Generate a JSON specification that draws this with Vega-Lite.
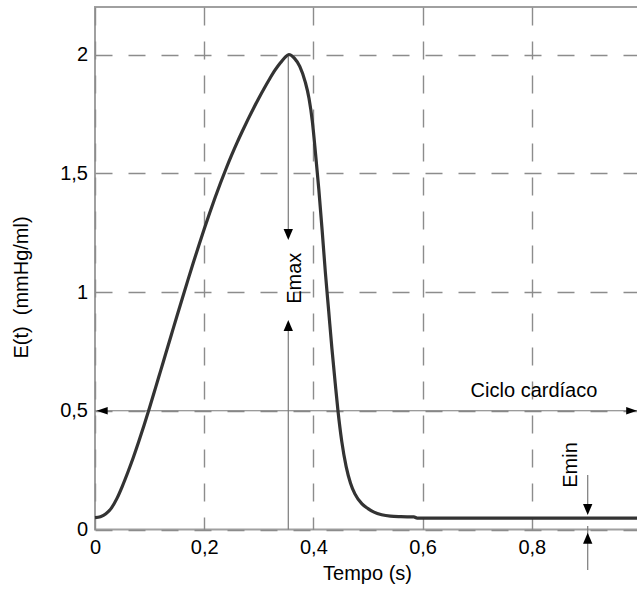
{
  "$schema": "https://vega.github.io/schema/vega-lite/v6.json",
  "width": 546,
  "height": 522.5,
  "autosize": {"type": "none"},
  "padding": {"left": 95, "top": 7, "right": 0, "bottom": 59.5},
  "background": "white",
  "config": {
    "view": {"stroke": "#a0a0a0", "strokeWidth": 2},
    "font": "Liberation Sans"
  },
  "datasets": {
    "curve": [
      {"t": 0.000, "E": 0.050}, {"t": 0.010, "E": 0.054}, {"t": 0.020, "E": 0.066},
      {"t": 0.030, "E": 0.090}, {"t": 0.040, "E": 0.130}, {"t": 0.050, "E": 0.182},
      {"t": 0.060, "E": 0.240}, {"t": 0.070, "E": 0.302}, {"t": 0.080, "E": 0.369},
      {"t": 0.090, "E": 0.440}, {"t": 0.100, "E": 0.514}, {"t": 0.110, "E": 0.590},
      {"t": 0.120, "E": 0.667}, {"t": 0.130, "E": 0.744}, {"t": 0.140, "E": 0.821},
      {"t": 0.150, "E": 0.898}, {"t": 0.160, "E": 0.974}, {"t": 0.170, "E": 1.049},
      {"t": 0.180, "E": 1.123}, {"t": 0.190, "E": 1.195}, {"t": 0.200, "E": 1.265},
      {"t": 0.210, "E": 1.333}, {"t": 0.220, "E": 1.398}, {"t": 0.230, "E": 1.460},
      {"t": 0.240, "E": 1.519}, {"t": 0.250, "E": 1.575}, {"t": 0.260, "E": 1.628},
      {"t": 0.270, "E": 1.678}, {"t": 0.280, "E": 1.726}, {"t": 0.290, "E": 1.772},
      {"t": 0.300, "E": 1.816}, {"t": 0.310, "E": 1.858}, {"t": 0.320, "E": 1.898},
      {"t": 0.330, "E": 1.935}, {"t": 0.340, "E": 1.966}, {"t": 0.348, "E": 1.988},
      {"t": 0.355, "E": 2.000}, {"t": 0.365, "E": 1.985}, {"t": 0.375, "E": 1.950},
      {"t": 0.385, "E": 1.885}, {"t": 0.392, "E": 1.815}, {"t": 0.398, "E": 1.720},
      {"t": 0.404, "E": 1.580}, {"t": 0.410, "E": 1.430}, {"t": 0.416, "E": 1.260},
      {"t": 0.422, "E": 1.080}, {"t": 0.428, "E": 0.920}, {"t": 0.434, "E": 0.760},
      {"t": 0.440, "E": 0.615}, {"t": 0.445, "E": 0.500}, {"t": 0.452, "E": 0.370},
      {"t": 0.460, "E": 0.265}, {"t": 0.468, "E": 0.195}, {"t": 0.476, "E": 0.150},
      {"t": 0.489, "E": 0.108}, {"t": 0.500, "E": 0.088}, {"t": 0.511, "E": 0.073},
      {"t": 0.525, "E": 0.062}, {"t": 0.541, "E": 0.056}, {"t": 0.560, "E": 0.054},
      {"t": 0.584, "E": 0.053}, {"t": 0.590, "E": 0.048}, {"t": 1.000, "E": 0.048}
    ],
    "rules": [
      {"t": 0.0, "E": 0.5, "t2": 0.993, "E2": 0.5},
      {"t": 0.354, "E": 2.0, "t2": 0.354, "E2": 1.25},
      {"t": 0.354, "E": 0.0, "t2": 0.354, "E2": 0.85},
      {"t": 0.9024, "E": 0.229, "t2": 0.9024, "E2": 0.09},
      {"t": 0.9024, "E": -0.17, "t2": 0.9024, "E2": 0.015}
    ],
    "heads": [
      {"t": 0.0031, "E": 0.5, "dir": "left"},
      {"t": 0.993, "E": 0.5, "dir": "right"},
      {"t": 0.354, "E": 1.219, "dir": "down"},
      {"t": 0.354, "E": 0.882, "dir": "up"},
      {"t": 0.9024, "E": 0.061, "dir": "down"},
      {"t": 0.9024, "E": -0.0135, "dir": "up"}
    ],
    "vlabels": [
      {"t": 0.3655, "E": 1.058, "label": "Emax"},
      {"t": 0.8722, "E": 0.2716, "label": "Emin"}
    ],
    "hlabels": [
      {"t": 0.804, "E": 0.56, "label": "Ciclo cardíaco"}
    ]
  },
  "layer": [
    {
      "data": {"name": "rules"},
      "mark": {"type": "rule", "color": "#7a7a7a", "strokeWidth": 1.2},
      "encoding": {
        "x": {
          "field": "t", "type": "quantitative", "title": "Tempo (s)",
          "scale": {"domain": [0, 1], "nice": false, "zero": false},
          "axis": {
            "values": [0, 0.2, 0.4, 0.6, 0.8],
            "labelExpr": "replace(toString(datum.value), '.', ',')",
            "domain": false, "ticks": false, "tickSize": 0,
            "grid": true, "gridColor": "#8c8c8c", "gridDash": [18, 16], "gridWidth": 1.4,
            "labelFont": "Liberation Sans", "labelFontSize": 20, "labelColor": "#000",
            "labelBaseline": "alphabetic", "labelPadding": 24, "labelFlush": false,
            "labelOverlap": false,
            "titleFont": "Liberation Sans", "titleFontSize": 20, "titleFontWeight": "normal",
            "titleColor": "#000", "titleBaseline": "alphabetic", "titleY": 50, "titleX": 272
          }
        },
        "x2": {"field": "t2"},
        "y": {
          "field": "E", "type": "quantitative", "title": "E(t) \u00a0(mmHg/ml)",
          "scale": {"domain": [0, 2.2], "nice": false, "zero": false},
          "axis": {
            "values": [0, 0.5, 1, 1.5, 2],
            "labelExpr": "replace(toString(datum.value), '.', ',')",
            "domain": false, "ticks": false, "tickSize": 0,
            "grid": true, "gridColor": "#8c8c8c", "gridDash": [17, 16], "gridWidth": 1.4,
            "labelFont": "Liberation Sans", "labelFontSize": 20, "labelColor": "#000",
            "labelPadding": 7.5, "labelFlush": false, "labelOverlap": false,
            "titleFont": "Liberation Sans", "titleFontSize": 20, "titleFontWeight": "normal",
            "titleColor": "#000", "titleBaseline": "middle", "titleAngle": 270,
            "titleX": -74, "titleY": 280
          }
        },
        "y2": {"field": "E2"}
      }
    },
    {
      "data": {"name": "curve"},
      "mark": {"type": "line", "color": "#333333", "strokeWidth": 3.2, "interpolate": "monotone"},
      "encoding": {
        "x": {"field": "t", "type": "quantitative", "title": "Tempo (s)"},
        "y": {"field": "E", "type": "quantitative", "title": "E(t) \u00a0(mmHg/ml)"}
      }
    },
    {
      "data": {"name": "heads"},
      "mark": {"type": "point", "filled": true, "color": "#000", "opacity": 1, "size": 121, "strokeWidth": 0},
      "encoding": {
        "x": {"field": "t", "type": "quantitative", "title": "Tempo (s)"},
        "y": {"field": "E", "type": "quantitative", "title": "E(t) \u00a0(mmHg/ml)"},
        "shape": {
          "field": "dir", "type": "nominal", "legend": null,
          "scale": {
            "domain": ["left", "right", "down", "up"],
            "range": ["M0,0 L2,-0.7 L2,0.7 Z", "M0,0 L-2,-0.7 L-2,0.7 Z", "M0,0 L-0.85,-2 L0.85,-2 Z", "M0,0 L-0.85,2 L0.85,2 Z"]
          }
        }
      }
    },
    {
      "data": {"name": "vlabels"},
      "mark": {"type": "text", "angle": 270, "align": "center", "baseline": "middle", "font": "Liberation Sans", "fontSize": 20, "color": "#000"},
      "encoding": {
        "x": {"field": "t", "type": "quantitative", "title": "Tempo (s)"},
        "y": {"field": "E", "type": "quantitative", "title": "E(t) \u00a0(mmHg/ml)"},
        "text": {"field": "label"}
      }
    },
    {
      "data": {"name": "hlabels"},
      "mark": {"type": "text", "align": "center", "baseline": "alphabetic", "font": "Liberation Sans", "fontSize": 20, "color": "#000"},
      "encoding": {
        "x": {"field": "t", "type": "quantitative", "title": "Tempo (s)"},
        "y": {"field": "E", "type": "quantitative", "title": "E(t) \u00a0(mmHg/ml)"},
        "text": {"field": "label"}
      }
    }
  ]
}
